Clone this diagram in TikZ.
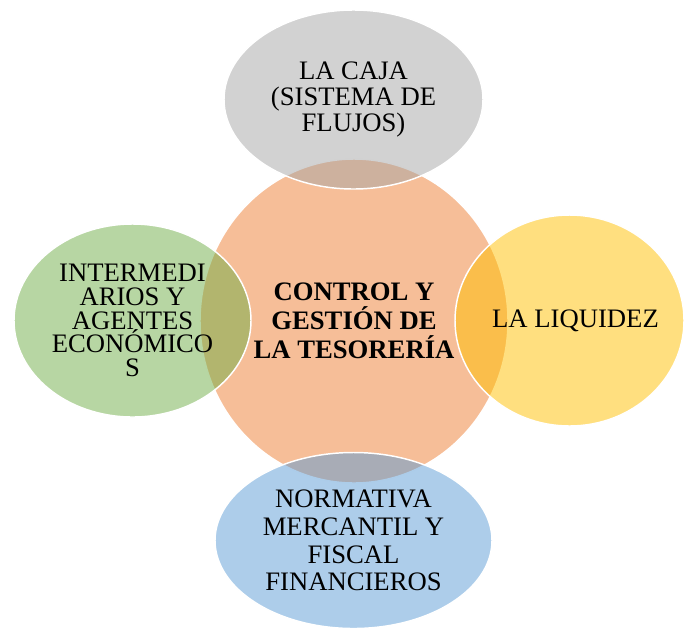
\documentclass[tikz,border=0pt]{standalone}
\usepackage{fontspec}
\setmainfont{Liberation Serif}
\usepackage{tikz}
\usetikzlibrary{shapes.geometric}

\definecolor{ofOrange}{HTML}{ED7D31}
\definecolor{ofGray}{HTML}{A5A5A5}
\definecolor{ofGold}{HTML}{FFC000}
\definecolor{ofBlue}{HTML}{5B9BD5}
\definecolor{ofGreen}{HTML}{70AD47}

\begin{document}
\begin{tikzpicture}[x=0.75pt, y=-0.75pt,
  bubble/.style={ellipse, draw=white, line width=1.1pt, fill opacity=0.5,
    text opacity=1, inner sep=0pt, align=center},
  txt/.style={inner sep=0pt, align=center}]

        \useasboundingbox (0,0) rectangle (684,629);

% Central circle
        \node[bubble, fill=ofOrange, minimum width=231pt, minimum height=243pt,
          font=\fontsize{20}{21.75}\selectfont\bfseries] (tesoreria) at (354,321)
          {CONTROL Y\\GESTIÓN DE\\LA TESORERÍA};

% Satellites
        \node[bubble, fill=ofGray, minimum width=194.25pt, minimum height=134.25pt,
          font=\fontsize{20}{19.5}\selectfont] (caja) at (353.5,99.5)
          {LA CAJA\\(SISTEMA DE\\FLUJOS)};
        \node[bubble, fill=ofGold, minimum width=171.75pt, minimum height=158.25pt] (liquidez) at (569.5,320.5) {};
        \node[txt, font=\fontsize{20}{24}\selectfont] (liqtxt) at (575.5,321) {LA LIQUIDEZ};
        \node[bubble, fill=ofBlue, minimum width=207.75pt, minimum height=132pt,
          font=\fontsize{20}{20.8}\selectfont] (normativa) at (353.5,540.5)
          {NORMATIVA\\MERCANTIL Y\\FISCAL\\FINANCIEROS};
        \node[bubble, fill=ofGreen, minimum width=177.75pt, minimum height=144.75pt,
          font=\fontsize{20}{17.8}\selectfont] (agentes) at (132.5,320.5)
          {INTERMEDI\\ARIOS Y\\AGENTES\\ECONÓMICO\\S};

      \end{tikzpicture}
\end{document}
